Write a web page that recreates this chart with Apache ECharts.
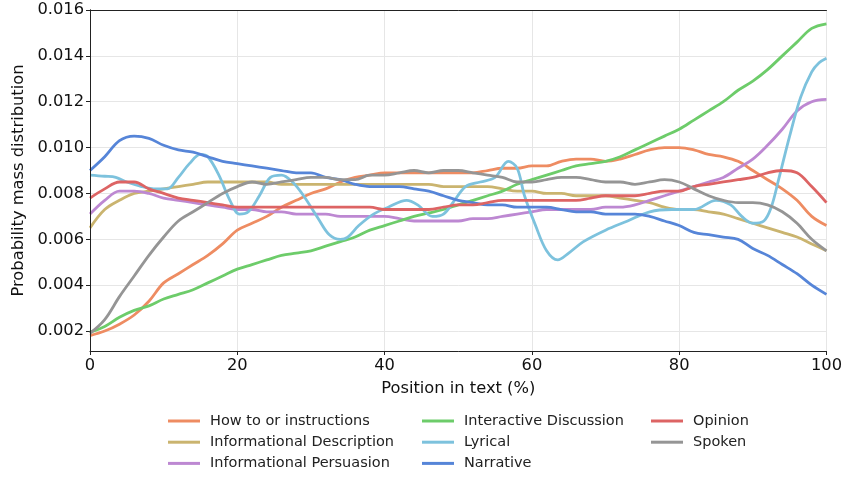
<!DOCTYPE html>
<html>
<head>
<meta charset="utf-8">
<script src="https://cdn.jsdelivr.net/npm/echarts@6/dist/echarts.min.js"></script>
<style>html,body{margin:0;padding:0;background:#fff}#c{width:845px;height:477px}</style>
</head>
<body>
<div id="c"></div>
<script>
// Shared positions (% of text) for most series
const positions = [0,2,4,6,8,10,12,14,16,18,20,22,24,26,28,30,32,34,36,38,40,42,44,46,48,50,52,54,56,58,60,62,64,66,68,70,72,74,76,78,80,82,84,86,88,90,92,94,96,98,100];

const howTo = [0.0018,0.0020,0.0023,0.0027,0.0033,0.0041,0.0045,0.0049,0.0053,0.0058,0.0064,0.0067,0.0070,0.0074,0.0077,0.0080,0.0082,0.0085,0.0087,0.0088,0.0089,0.0089,0.0089,0.0089,0.0089,0.0089,0.0089,0.0090,0.0091,0.0091,0.0092,0.0092,0.0094,0.0095,0.0095,0.0094,0.0095,0.0097,0.0099,0.0100,0.0100,0.0099,0.0097,0.0096,0.0094,0.0090,0.0086,0.0082,0.0077,0.0070,0.0066];
const infoDesc = [0.0065,0.0073,0.0077,0.0080,0.0081,0.0082,0.0083,0.0084,0.0085,0.0085,0.0085,0.0085,0.0085,0.0084,0.0084,0.0084,0.0084,0.0084,0.0084,0.0084,0.0084,0.0084,0.0084,0.0084,0.0083,0.0083,0.0083,0.0083,0.0082,0.0081,0.0081,0.0080,0.0080,0.0079,0.0079,0.0079,0.0078,0.0077,0.0076,0.0074,0.0073,0.0073,0.0072,0.0071,0.0069,0.0067,0.0065,0.0063,0.0061,0.0058,0.0055];
const infoPers = [0.0071,0.0077,0.0081,0.0081,0.0080,0.0078,0.0077,0.0076,0.0075,0.0074,0.0073,0.0073,0.0072,0.0072,0.0071,0.0071,0.0071,0.0070,0.0070,0.0070,0.0070,0.0069,0.0068,0.0068,0.0068,0.0068,0.0069,0.0069,0.0070,0.0071,0.0072,0.0073,0.0073,0.0073,0.0073,0.0074,0.0074,0.0075,0.0077,0.0079,0.0081,0.0083,0.0085,0.0087,0.0091,0.0095,0.0101,0.0108,0.0116,0.0120,0.0121];
const interactive = [0.00195,0.0022,0.0026,0.0029,0.0031,0.0034,0.0036,0.0038,0.0041,0.0044,0.0047,0.0049,0.0051,0.0053,0.0054,0.0055,0.0057,0.0059,0.0061,0.0064,0.0066,0.0068,0.0070,0.00715,0.0073,0.0075,0.0077,0.0079,0.0081,0.0084,0.0086,0.0088,0.0090,0.0092,0.0093,0.0094,0.0096,0.0099,0.0102,0.0105,0.0108,0.0112,0.0116,0.0120,0.0125,0.0129,0.0134,0.0140,0.0146,0.0152,0.0154];
const narrative = [0.0090,0.0096,0.0103,0.0105,0.0104,0.0101,0.0099,0.0098,0.0096,0.0094,0.0093,0.0092,0.0091,0.0090,0.0089,0.0089,0.0087,0.0086,0.0084,0.0083,0.0083,0.0083,0.0082,0.0081,0.0079,0.0077,0.0076,0.0075,0.0075,0.0074,0.0074,0.0074,0.0073,0.0072,0.0072,0.0071,0.0071,0.0071,0.0070,0.0068,0.0066,0.0063,0.0062,0.0061,0.0060,0.0056,0.0053,0.0049,0.0045,0.0040,0.0036];
const opinion = [0.0078,0.0082,0.0085,0.0085,0.0082,0.0080,0.0078,0.0077,0.0076,0.0075,0.0074,0.0074,0.0074,0.0074,0.0074,0.0074,0.0074,0.0074,0.0074,0.0074,0.0073,0.0073,0.0073,0.0073,0.0074,0.0075,0.0075,0.0076,0.0077,0.0077,0.0077,0.0077,0.0077,0.0077,0.0078,0.0079,0.0079,0.0079,0.0080,0.0081,0.0081,0.0083,0.0084,0.0085,0.0086,0.0087,0.0089,0.0090,0.0089,0.0083,0.0076];
const spoken = [0.0019,0.0025,0.0035,0.0044,0.0053,0.0061,0.0068,0.0072,0.0076,0.0080,0.0083,0.0085,0.0084,0.0085,0.0086,0.0087,0.0087,0.0086,0.0086,0.0088,0.0088,0.0089,0.0090,0.0089,0.0090,0.0090,0.0089,0.0088,0.0087,0.0085,0.0085,0.0086,0.0087,0.0087,0.0086,0.0085,0.0085,0.0084,0.0085,0.0086,0.0085,0.0082,0.0079,0.0077,0.0076,0.0076,0.0075,0.0072,0.0067,0.0060,0.0055];

// Lyrical is wigglier, so it has its own positions
const lyricalPos = [0,2,3.5,5,7,9,10.5,12,13.5,15,16,17.5,19,20.3,21.5,23,24.5,26,27.5,29,31,32.5,34,35,36.5,38.5,40.5,43,44.5,46.5,48,49.5,51,53,55,56.8,58,59,60.5,62,63.5,65,67,70,73,76,79,82,85,87,88.5,90,91.5,92.5,93.5,95,96.5,98,99,100];
const lyrical = [0.0088,0.00875,0.0087,0.0085,0.0083,0.0082,0.0082,0.0087,0.0093,0.0097,0.0096,0.0088,0.0077,0.0071,0.0072,0.0079,0.0087,0.0088,0.0085,0.0079,0.0069,0.0062,0.0060,0.0061,0.0066,0.0071,0.0074,0.0077,0.0075,0.0070,0.0071,0.0077,0.0083,0.0085,0.0087,0.0094,0.0091,0.0079,0.0066,0.0055,0.0051,0.0054,0.0059,0.0064,0.0068,0.0072,0.0073,0.0073,0.0077,0.0075,0.0070,0.0067,0.0068,0.0074,0.0086,0.0105,0.0122,0.0133,0.0137,0.0139];

const xTicks = {min: 0, max: 100, interval: 20};
const yRange = {min: 0.00113, max: 0.016};

const seriesDefs = [
  {name: 'How to or instructions', x: positions, y: howTo, color: '#ee8c62'},
  {name: 'Informational Description', x: positions, y: infoDesc, color: '#cab46f'},
  {name: 'Informational Persuasion', x: positions, y: infoPers, color: '#bd88d2'},
  {name: 'Interactive Discussion', x: positions, y: interactive, color: '#6dcc6a'},
  {name: 'Lyrical', x: lyricalPos, y: lyrical, color: '#7dc2dd'},
  {name: 'Narrative', x: positions, y: narrative, color: '#5685d8'},
  {name: 'Opinion', x: positions, y: opinion, color: '#dd6464'},
  {name: 'Spoken', x: positions, y: spoken, color: '#959595'}
];

const FONT = 'DejaVu Sans';
const chart = echarts.init(document.getElementById('c'), null, {renderer: 'canvas'});

const legendBase = {
  orient: 'vertical', padding: 0, itemGap: 4.2, itemWidth: 32, itemHeight: 3, icon: 'rect',
  top: 412.5,
  textStyle: {fontFamily: FONT, fontSize: 14.5, color: '#222', lineHeight: 17, padding: [0, 0, 0, 5]}
};

const spineOnly = {
  axisLine: {show: true, lineStyle: {color: '#222', width: 1}},
  axisTick: {show: false}, axisLabel: {show: false}, splitLine: {show: false}
};

chart.setOption({
  animation: false,
  backgroundColor: '#fff',
  textStyle: {fontFamily: FONT},
  grid: {left: 90, right: 17, top: 10, bottom: 126, containLabel: false},
  legend: [
    Object.assign({}, legendBase, {left: 168, data: seriesDefs.slice(0, 3).map(s => s.name)}),
    Object.assign({}, legendBase, {left: 422, data: seriesDefs.slice(3, 6).map(s => s.name)}),
    Object.assign({}, legendBase, {left: 651, data: seriesDefs.slice(6, 8).map(s => s.name)})
  ],
  xAxis: [{
    type: 'value', min: xTicks.min, max: xTicks.max, interval: xTicks.interval,
    name: 'Position in text (%)', nameLocation: 'middle', nameGap: 30,
    nameTextStyle: {fontFamily: FONT, fontSize: 16.3, color: '#111'},
    axisLine: {show: true, lineStyle: {color: '#222', width: 1}},
    axisTick: {show: true, inside: false, length: 4, lineStyle: {color: '#222'}},
    axisLabel: {fontFamily: FONT, fontSize: 16.3, color: '#111', margin: 7},
    splitLine: {show: true, lineStyle: {color: '#e6e6e6', width: 1}},
    z: 1
  }, Object.assign({type: 'value', position: 'top', min: xTicks.min, max: xTicks.max, z: 5}, spineOnly)],
  yAxis: [{
    type: 'value', min: yRange.min, max: yRange.max, splitNumber: 7,
    name: 'Probability mass distribution', nameLocation: 'middle', nameGap: 61,
    nameTextStyle: {fontFamily: FONT, fontSize: 16.3, color: '#111'},
    axisLine: {show: true, lineStyle: {color: '#222', width: 1}},
    axisTick: {show: true, inside: false, length: 4, lineStyle: {color: '#222'}},
    axisLabel: {fontFamily: FONT, fontSize: 16.3, color: '#111', margin: 6, showMinLabel: false,
      formatter: v => v.toFixed(3)},
    splitLine: {show: true, lineStyle: {color: '#e6e6e6', width: 1}},
    z: 1
  }, Object.assign({type: 'value', position: 'right', min: yRange.min, max: yRange.max, z: 5}, spineOnly)],
  series: seriesDefs.map(s => ({
    name: s.name, type: 'line', smooth: 0.35, showSymbol: false, symbol: 'none',
    color: s.color, xAxisIndex: 0, yAxisIndex: 0,
    lineStyle: {width: 2.8, color: s.color},
    data: s.x.map((x, i) => [x, s.y[i]])
  }))
});
</script>
</body>
</html>
